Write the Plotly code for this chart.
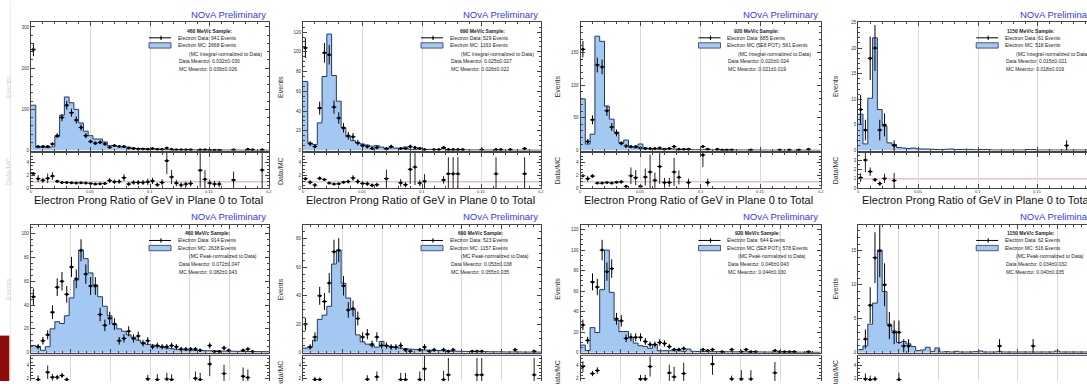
import numpy as np
import plotly.graph_objects as go

W, H = 1087, 384
NBINS = 50
TOP_RANGE = (0.0, 0.2)   # integral-normalized row
BOT_RANGE = (0.0, 0.3)   # peak-normalized row

# ---------------- 460 MeV/c, MC integral-normalized ----------------
mc_int_460 = [110, 7, 8, 7, 9, 34, 86, 130, 116, 100, 67, 47, 36, 28, 28, 21, 12, 12, 10, 8,
              8, 6, 5, 5, 4, 4, 3.5, 3.2, 1.6, 1.8, 2.5, 2.4, 2.3, 2.0, 1.6, 0.9, 1.4, 1.8, 1.5, 1.5,
              1.2, 1.1, 1.5, 1.0, 0.9, 0.8, 0.8, 0.7, 0.7, 0.7]
data_bins_int_460 = list(range(0, 34)) + [35, 36, 37, 38, 39, 42, 45, 46, 48]
data_int_460 = [245, 10, 10, 10, 16, 36, 80, 110, 92, 74, 56, 36, 22, 18, 20, 16, 8, 12, 10, 10,
                6, 5, 4, 4, 3, 5, 3, 3, 6, 3, 2, 2, 2, 2,
                2, 2, 1, 1, 1, 2, 3, 2, 2]
ratio_bins_int_460 = list(range(0, 34)) + [35, 36, 37, 38, 39, 42, 48]
ratio_int_460 = [2.3, 1.5, 1.25, 1.55, 1.9, 1.1, 0.9, 0.9, 0.85, 0.8, 0.85, 0.8, 0.75, 0.65, 0.7,
                 0.75, 1.2, 1.0, 1.05, 1.65, 0.65, 0.9, 0.9, 0.9, 1.0, 1.15, 0.55, 0.9, 4.3, 1.75,
                 0.8, 0.5, 0.65, 0.75,
                 2.8, 1.4, 0.8, 0.65, 0.65, 1.3, 2.85]
ratio_err_int_460 = [0.2, 0.55, 0.4, 0.75, 0.6, 0.2, 0.1, 0.1, 0.1, 0.1, 0.12, 0.15, 0.15, 0.15, 0.15,
                     0.2, 0.4, 0.35, 0.35, 0.55, 0.3, 0.35, 0.4, 0.4, 0.5, 0.5, 0.3, 0.5, 2.1, 1.1,
                     0.5, 0.4, 0.4, 0.5,
                     2.7, 1.4, 0.55, 0.5, 0.5, 1.3, 2.85]
legend_int_460 = ["460 MeV/c Sample:", "Electron Data: 941 Events", "Electron MC: 2668 Events",
                  "(MC Integral-normalized to Data)", "Data Mean±σ: 0.032±0.030",
                  "MC Mean±σ: 0.039±0.026"]

# ---------------- 690 MeV/c, MC integral-normalized ----------------
mc_int_690 = [70, 7.5, 6, 28, 75, 118, 76, 50, 23, 14, 10, 7.6, 6.5, 5.5, 4.4, 5, 3.5, 1.4, 3, 2.5,
              2.3, 3.6, 1.4, 0.9, 2.5, 0.9, 1.2, 1.1, 1.0, 2.3, 0.45, 0.45, 0.45, 0.6, 0.6, 0.6,
              0.6, 0.6, 0.5, 0.5, 0.45, 0.5, 0.4, 0.4, 0.4, 0.4, 0.45, 0.4, 0.3, 0.3]
data_bins_int_690 = list(range(0, 16)) + [17, 18, 20, 21, 22, 23, 24, 25,
                                          27, 28, 29, 30, 31, 32, 33, 37, 40, 41, 43, 46]
data_int_690 = [104, 7, 4, 43, 99, 97, 44, 33, 23, 15, 14, 8, 5, 4, 2, 3,
                2, 4, 2, 2, 4, 3, 2, 1,
                1, 1, 3, 1, 1, 1, 1, 1, 1, 1, 1, 2]
ratio_bins_int_690 = list(range(0, 16)) + [17, 20, 21, 22, 23, 24, 25, 29, 30, 31, 32, 40, 46]
ratio_int_690 = [1.5, 0.95, 0.5, 1.55, 1.35, 0.8, 0.65, 0.7, 0.95, 1.05, 1.6, 1.05, 0.75, 0.7,
                 0.45, 0.55, 1.5, 0.85, 0.55, 2.95, 3.3, 0.8, 1.1, 1.3, 2.25, 2.25, 2.25, 2.25, 2.25]
ratio_err_int_690 = [0.25, 0.35, 0.3, 0.3, 0.15, 0.1, 0.1, 0.15, 0.2, 0.3, 0.45, 0.4, 0.35, 0.35,
                     0.3, 0.3, 1.4, 0.6, 0.4, 2.3, 2.8, 0.5, 1.1, 0.6, 2.6, 2.6, 2.6, 2.6, 2.6]
legend_int_690 = ["690 MeV/c Sample:", "Electron Data: 529 Events", "Electron MC: 1163 Events",
                  "(MC Integral-normalized to Data)", "Data Mean±σ: 0.025±0.027",
                  "MC Mean±σ: 0.026±0.022"]

# ---------------- 920 MeV/c, MC integral-normalized ----------------
mc_int_920 = [79, 10, 25, 175, 167, 68, 48, 28, 12, 16, 5, 4, 10, 4, 3, 3, 2, 2.5, 3, 2.3,
              1.5, 1.5, 2.2, 1.2, 1.2, 1.1, 2.2, 1.0, 1.0, 1.0, 0.9, 1.2, 0.9, 0.8, 0.8, 0.9,
              0.7, 0.7, 0.7, 0.6, 0.6, 0.6, 0.5, 0.5, 0.5, 0.5, 0.5, 0.4, 0.4, 0.4]
data_bins_int_920 = list(range(0, 23)) + [25, 26, 28, 29, 30, 31, 35, 41, 43, 45, 47]
data_int_920 = [155, 14, 47, 131, 128, 61, 36, 27, 11, 7, 6, 6, 4, 3, 3, 3, 4, 2, 3, 6, 2, 2, 2,
                6, 2, 2, 1, 1, 1, 1, 1, 1, 1, 2]
ratio_bins_int_920 = list(range(0, 21)) + [22, 25, 26]
ratio_int_920 = [1.95, 1.5, 1.9, 0.8, 0.8, 0.9, 0.8, 0.95, 1.0, 0.3, 1.95, 1.65, 0.3, 1.75, 2.55,
                 1.25, 3.4, 0.9, 0.9, 2.55, 1.7, 0.9, 5.2, 0.9]
ratio_err_int_920 = [0.2, 0.45, 0.3, 0.08, 0.08, 0.12, 0.15, 0.2, 0.3, 0.15, 1.3, 1.2, 0.2, 1.3,
                     2.7, 1.2, 2.7, 0.7, 0.7, 2.2, 1.1, 0.6, 1.9, 0.6]
legend_int_920 = ["920 MeV/c Sample:", "Electron Data: 685 Events",
                  "Electron MC (5E8 POT): 581 Events", "(MC Integral-normalized to Data)",
                  "Data Mean±σ: 0.020±0.024", "MC Mean±σ: 0.021±0.019"]

# ---------------- 1150 MeV/c, MC integral-normalized ----------------
mc_int_1150 = [7.1, 1.3, 10.2, 22, 8, 4.8, 1.5, 1.2, 0.6, 0.5, 0.4, 0.5, 0.35, 0.3, 0.3, 0.25,
               0.2, 0.2, 0.25, 0.3, 0.2, 0.2, 0.25, 0.2, 0.15, 0.2, 0.2, 0.15, 0.1, 0.1, 0.1, 0.1,
               0.1, 0.1, 0.1, 0.2, 0.2, 0.1, 0.1, 0.1, 0.1, 0.1, 0.1, 0.1, 0.1, 0.1, 0.1, 0.1,
               0.1, 0.1]
data_bins_int_1150 = [0, 1, 2, 3, 4, 5, 7, 43]
data_int_1150 = [8, 4, 18, 20, 4, 5, 1, 1]
ratio_bins_int_1150 = [0, 1, 2, 3, 4, 5, 7]
ratio_int_1150 = [1.13, 3.0, 1.77, 0.9, 0.5, 1.05, 0.82]
ratio_err_int_1150 = [0.45, 1.3, 0.45, 0.2, 0.25, 0.5, 0.8]
legend_int_1150 = ["1150 MeV/c Sample:", "Electron Data: 61 Events", "Electron MC: 518 Events",
                   "(MC Integral-normalized to Data)", "Data Mean±σ: 0.015±0.021",
                   "MC Mean±σ: 0.018±0.019"]

# ---------------- 460 MeV/c, MC peak-normalized ----------------
mc_peak_460 = [6, 5, 2, 5, 20, 26, 24.5, 31, 46, 61, 86, 79, 67, 57, 47, 39, 31, 24, 20, 18,
               15, 13, 10.5, 8.6, 7, 6.4, 5.6, 4.7, 3.9, 3.3, 2.8, 2.5, 2.3, 2.1, 1.9, 1.8, 1.7,
               1.6, 1.5, 1.4, 1.3, 1.2, 1.2, 1.1, 1.1, 1.0, 1.0, 0.9, 0.9, 0.8]
data_bins_peak_460 = list(range(0, 36)) + [37, 38, 39, 40, 41, 44, 45, 46]
data_peak_460 = [47, 5, 10, 15, 34, 55, 60, 49, 72, 62, 86, 66, 56, 56, 32, 23, 29, 24, 10, 12,
                 18, 12, 14, 8, 10, 5, 6, 5, 5, 6, 5, 3, 3, 3, 3, 2,
                 6, 1, 1, 4, 2, 2, 3, 1]
ratio_bins_peak_460 = [1, 3, 4, 5, 6, 7, 24, 26, 28, 29, 34, 35, 37, 40, 44, 45]
ratio_peak_460 = [1.9, 3.0, 2.25, 2.25, 2.5, 1.9, 2.0, 1.9, 2.0, 1.9, 2.1, 1.9, 4.2, 2.8, 2.4, 2.2]
ratio_err_peak_460 = [0.6, 1.0, 0.5, 0.4, 0.4, 0.3, 0.6, 0.8, 0.9, 0.8, 1.0, 1.0, 1.8, 1.3, 1.3, 1.2]
legend_peak_460 = ["460 MeV/c Sample:", "Electron Data: 914 Events", "Electron MC: 2638 Events",
                   "(MC Peak-normalized to Data)", "Data Mean±σ: 0.072±0.047",
                   "MC Mean±σ: 0.082±0.043"]

# ---------------- 690 MeV/c, MC peak-normalized ----------------
mc_peak_690 = [3.2, 4.2, 8.8, 23.4, 26.4, 32.6, 62.3, 72, 48.8, 38.4, 30.3, 12.5, 7.6, 6, 4.9,
               3.9, 7.9, 4.9, 4.2, 3.7, 3.2, 2.9, 2.5, 2.3, 2.1, 1.9, 1.7, 1.6, 1.5, 1.4, 1.2,
               1.1, 1.0, 0.9, 0.9, 0.8, 0.8, 0.7, 0.7, 0.6, 0.6, 0.6, 0.5, 0.5, 0.5, 0.5, 0.4,
               0.4, 0.4, 0.4]
data_bins_peak_690 = list(range(0, 23)) + [24, 25, 26, 27, 29, 30, 31, 35, 36, 37, 44, 48]
data_peak_690 = [20, 4, 11, 40, 36, 49, 71, 72, 47, 30, 31, 24, 11, 13, 6, 11, 5, 5, 4, 4, 5, 2, 1,
                 2, 4, 1, 2, 2, 1, 2, 1, 1, 1, 2, 1]
ratio_bins_peak_690 = [2, 3, 13, 15, 20, 21, 24, 25, 29, 30, 36, 37, 48]
ratio_peak_690 = [1.9, 1.9, 1.95, 2.3, 1.9, 1.9, 1.9, 3.5, 1.9, 2.6, 2.6, 2.6, 2.6]
ratio_err_peak_690 = [0.4, 0.3, 0.6, 0.8, 1.0, 1.0, 1.2, 1.9, 1.3, 2.5, 2.5, 2.5, 2.5]
legend_peak_690 = ["690 MeV/c Sample:", "Electron Data: 523 Events", "Electron MC: 1157 Events",
                   "(MC Peak-normalized to Data)", "Data Mean±σ: 0.053±0.038",
                   "MC Mean±σ: 0.055±0.035"]

# ---------------- 920 MeV/c, MC peak-normalized ----------------
mc_peak_920 = [7.4, 2.2, 24.4, 19.6, 61.4, 100, 58.8, 31.5, 20.6, 20.6, 14.8, 9.3, 6.8, 6.1, 4.2,
               8, 1.9, 1.9, 1.9, 1.9, 1.9, 1.3, 3.5, 1.3, 1.2, 1.1, 1.1, 1.0, 1.0, 0.9, 0.9, 0.9,
               0.8, 0.8, 0.8, 0.7, 0.7, 0.7, 0.6, 0.6, 0.6, 0.6, 0.5, 0.5, 0.5, 0.5, 0.5, 0.4,
               0.4, 0.4]
data_bins_peak_920 = list(range(0, 22)) + [25, 26, 27, 29, 31, 33, 34, 35, 36, 40, 41, 42, 43, 44, 47]
data_peak_920 = [27, 12, 69, 64, 100, 79, 82, 33, 31, 14, 15, 15, 15, 11, 8, 8, 10, 9, 6, 3, 3, 4,
                 3, 2, 3, 1, 3, 1, 3, 1, 1, 2, 1, 1, 1, 1, 1]
ratio_bins_peak_920 = [0, 2, 3, 12, 13, 14, 18, 19, 21, 27, 31, 33, 35, 40]
ratio_peak_920 = [3.85, 2.8, 3.25, 2.0, 2.0, 3.85, 2.9, 2.3, 2.8, 4.2, 2.0, 2.0, 2.0, 2.9]
ratio_err_peak_920 = [0.8, 0.4, 0.5, 0.6, 0.6, 1.5, 1.2, 1.5, 1.6, 1.6, 0.5, 1.3, 1.3, 1.6]
legend_peak_920 = ["920 MeV/c Sample:", "Electron Data: 644 Events",
                   "Electron MC (5E8 POT): 578 Events", "(MC Peak-normalized to Data)",
                   "Data Mean±σ: 0.046±0.043", "MC Mean±σ: 0.044±0.030"]

# ---------------- 1150 MeV/c, MC peak-normalized ----------------
mc_peak_1150 = [0.45, 1.0, 4.2, 7.3, 15.1, 9.0, 4.2, 3.2, 1.5, 1.65, 1.3, 0.9, 0.3, 0.4, 0.8, 0.2,
                0.7, 0.1, 0.15, 0.1, 0.2, 0.1, 0.1, 0.1, 0.15, 0.25, 0.1, 0.1, 0.1, 0.2, 0.1, 0.1,
                0.1, 0.1, 0.1, 0.1, 0.1, 0.1, 0.1, 0.1, 0.1, 0.25, 0.1, 0.1, 0.1, 0.1, 0.1, 0.1,
                0.1, 0.1]
data_bins_peak_1150 = [1, 2, 3, 4, 5, 6, 7, 8, 9, 10, 29, 36]
data_peak_1150 = [2, 7, 14, 15, 10, 4, 3, 3, 1, 1, 1, 1]
ratio_bins_peak_1150 = [1, 2, 3, 8]
ratio_peak_1150 = [2.0, 1.9, 2.0, 1.9]
ratio_err_peak_1150 = [0.8, 0.6, 0.4, 1.0]
legend_peak_1150 = ["1150 MeV/c Sample:", "Electron Data: 62 Events", "Electron MC: 516 Events",
                    "(MC Peak-normalized to Data)", "Data Mean±σ: 0.034±0.032",
                    "MC Mean±σ: 0.040±0.035"]

X_TITLE = "Electron Prong Ratio of GeV in Plane 0 to Total"
RATIO_X_TICKS = [0.0, 0.05, 0.1, 0.15, 0.2]
RATIO_X_LABELS = ["0", "0.05", "0.1", "0.15", "0.2"]

# ---------------- styling ----------------
FONT = "Liberation Sans, Arial, Helvetica, sans-serif"
MC_FILL = "#a3c8f2"
MC_LINE = "#24385e"
AX = "#444444"
GRID = "#dadada"
RATIO_ONE = "#e3a0a0"
NOVA_BLUE = "#3838ee"

# pixel geometry of the panel frames
COL_LEFT = [31.0, 303.0, 580.5, 858.2]
COL_RIGHT = [269.3, 541.3, 820.5, 1097.8]
ROW_MAIN = [(20.7, 150.5), (226.0, 355.3)]
ROW_RATIO = [(153.0, 188.7), (358.0, 395.5)]
TITLE_CX = [[178.0, 179.8, 176.0, 172.8], [176.5, 177.7, 176.8, 172.6]]
TAB_TOP = 338.0   # top edge of the corner tab

panels = [
    dict(row=0, col=0, mc=mc_int_460, db=data_bins_int_460, dv=data_int_460,
         rb=ratio_bins_int_460, rv=ratio_int_460, re=ratio_err_int_460, leg=legend_int_460,
         ymax=311, dt=100, mdt=20, rmax=5.5, rticks=[0, 2, 4], faint=True),
    dict(row=0, col=1, mc=mc_int_690, db=data_bins_int_690, dv=data_int_690,
         rb=ratio_bins_int_690, rv=ratio_int_690, re=ratio_err_int_690, leg=legend_int_690,
         ymax=129.8, dt=20, mdt=5, rmax=5.5, rticks=[0, 2, 4], faint=False),
    dict(row=0, col=2, mc=mc_int_920, db=data_bins_int_920, dv=data_int_920,
         rb=ratio_bins_int_920, rv=ratio_int_920, re=ratio_err_int_920, leg=legend_int_920,
         ymax=196, dt=50, mdt=10, rmax=5.5, rticks=[0, 2, 4], faint=False),
    dict(row=0, col=3, mc=mc_int_1150, db=data_bins_int_1150, dv=data_int_1150,
         rb=ratio_bins_int_1150, rv=ratio_int_1150, re=ratio_err_int_1150, leg=legend_int_1150,
         ymax=25, dt=5, mdt=1, rmax=3.75, rticks=[0, 1, 2, 3], faint=False),
    dict(row=1, col=0, mc=mc_peak_460, db=data_bins_peak_460, dv=data_peak_460,
         rb=ratio_bins_peak_460, rv=ratio_peak_460, re=ratio_err_peak_460, leg=legend_peak_460,
         ymax=107.2, dt=20, mdt=5, rmax=5.5, rticks=[0, 2, 4], faint=True),
    dict(row=1, col=1, mc=mc_peak_690, db=data_bins_peak_690, dv=data_peak_690,
         rb=ratio_bins_peak_690, rv=ratio_peak_690, re=ratio_err_peak_690, leg=legend_peak_690,
         ymax=89.7, dt=20, mdt=5, rmax=5.5, rticks=[0, 2, 4], faint=False),
    dict(row=1, col=2, mc=mc_peak_920, db=data_bins_peak_920, dv=data_peak_920,
         rb=ratio_bins_peak_920, rv=ratio_peak_920, re=ratio_err_peak_920, leg=legend_peak_920,
         ymax=124.4, dt=20, mdt=5, rmax=5.5, rticks=[0, 2, 4], faint=False),
    dict(row=1, col=3, mc=mc_peak_1150, db=data_bins_peak_1150, dv=data_peak_1150,
         rb=ratio_bins_peak_1150, rv=ratio_peak_1150, re=ratio_err_peak_1150, leg=legend_peak_1150,
         ymax=18.8, dt=5, mdt=1, rmax=5.5, rticks=[0, 2, 4], faint=False),
]


def fx(p):
    return p / W


def fy(p):
    return 1 - p / H


def ax_name(i, letter):
    return letter if i == 1 else f"{letter}{i}"


def ax_key(i, letter):
    return f"{letter}axis" if i == 1 else f"{letter}axis{i}"


fig = go.Figure()
layout_axes = {}
annotations = []
shapes = []

for k, p in enumerate(panels):
    r, c = p["row"], p["col"]
    lo, hi = TOP_RANGE if r == 0 else BOT_RANGE
    left, right = COL_LEFT[c], COL_RIGHT[c]
    vis_right = min(right, W)
    x_hi = lo + (hi - lo) * (vis_right - left) / (right - left)
    cut_right = right > W
    mt, mb = ROW_MAIN[r]
    rt, rb = ROW_RATIO[r]
    cut_bottom = rb > H

    edges = np.linspace(lo, hi, NBINS + 1)
    centers = 0.5 * (edges[:-1] + edges[1:])
    half = 0.5 * (hi - lo) / NBINS

    im, ir = 2 * k + 1, 2 * k + 2
    xm, ym = ax_name(im, "x"), ax_name(im, "y")
    xr, yr = ax_name(ir, "x"), ax_name(ir, "y")

    # simulated spectrum as a filled step histogram
    mc = list(p["mc"])
    fig.add_trace(go.Scatter(
        x=edges, y=mc + [mc[-1]], mode="lines",
        line=dict(shape="hv", color=MC_LINE, width=1),
        fill="tozeroy", fillcolor=MC_FILL, xaxis=xm, yaxis=ym, hoverinfo="skip"))

    # data counts with Poisson uncertainties
    dv = np.array(p["dv"], dtype=float)
    fig.add_trace(go.Scatter(
        x=centers[p["db"]], y=dv, mode="markers",
        marker=dict(color="black", size=3),
        error_y=dict(type="data", array=np.sqrt(dv), color="black", thickness=1, width=0),
        error_x=dict(type="constant", value=half, color="black", thickness=1, width=0),
        xaxis=xm, yaxis=ym, hoverinfo="skip"))

    # data / MC ratio
    fig.add_trace(go.Scatter(
        x=centers[p["rb"]], y=p["rv"], mode="markers",
        marker=dict(color="black", size=3),
        error_y=dict(type="data", array=p["re"], color="#222222", thickness=1, width=0),
        error_x=dict(type="constant", value=half, color="black", thickness=1, width=0),
        xaxis=xr, yaxis=yr, hoverinfo="skip"))

    xdom = [fx(left), fx(vis_right)]
    tickfont = dict(family=FONT, size=4.5, color="#333333")

    layout_axes[ax_key(im, "x")] = dict(
        domain=xdom, range=[lo, x_hi], anchor=ym, showticklabels=False,
        ticks="inside", ticklen=4, tickcolor=AX, tick0=0, dtick=0.05,
        minor=dict(ticks="inside", ticklen=2, dtick=0.01, tickcolor=AX),
        showline=True, linecolor=AX, linewidth=1, mirror="allticks",
        showgrid=True, gridcolor=GRID, gridwidth=1, zeroline=False)
    layout_axes[ax_key(im, "y")] = dict(
        domain=[fy(mb), fy(mt)], range=[0, p["ymax"]], anchor=xm,
        ticks="inside", ticklen=4, tickcolor=AX, tick0=0, dtick=p["dt"],
        minor=dict(ticks="inside", ticklen=2, dtick=p["mdt"], tickcolor=AX),
        showline=True, linecolor=AX, linewidth=1,
        mirror=False if cut_right else "allticks",
        showgrid=False, zeroline=False, tickfont=tickfont)

    r_lo = p["rmax"] * (rb - H) / (rb - rt) if cut_bottom else 0.0
    if cut_bottom:
        rx = dict(showline=False, ticks="")
    else:
        rx = dict(showline=True, linecolor=AX, linewidth=1, mirror="allticks",
                  ticks="inside", ticklen=4, tickcolor=AX,
                  minor=dict(ticks="inside", ticklen=2, dtick=0.01, tickcolor=AX))
    layout_axes[ax_key(ir, "x")] = dict(
        domain=xdom, range=[lo, x_hi], anchor=yr, showticklabels=False,
        tick0=0, dtick=0.05, showgrid=True, gridcolor=GRID, gridwidth=1, zeroline=False, **rx)
    layout_axes[ax_key(ir, "y")] = dict(
        domain=[max(0.0, fy(rb)), fy(rt)], range=[r_lo, p["rmax"]], anchor=xr,
        tickvals=p["rticks"], ticks="inside", ticklen=4, tickcolor=AX,
        minor=dict(ticks="inside", ticklen=2, dtick=0.5, tickcolor=AX),
        showline=True, linecolor=AX, linewidth=1,
        mirror=False if cut_right else "allticks",
        showgrid=False, zeroline=False, tickfont=tickfont)

    if not cut_bottom:
        shapes.append(dict(type="line", xref=f"{xr} domain", x0=0, x1=1, yref=yr, y0=1, y1=1,
                           line=dict(color=RATIO_ONE, width=1), layer="below"))
        # ratio x tick labels sit just under the frame
        for tv, tl in zip(RATIO_X_TICKS, RATIO_X_LABELS):
            if tv <= x_hi:
                annotations.append(dict(x=tv, xref=xr, y=fy(rb + 3.4), yref="paper", text=tl,
                                        showarrow=False, xanchor="center", yanchor="middle",
                                        font=dict(family=FONT, size=4, color="#333333")))
    else:
        shapes.append(dict(type="line", xref=f"{xr} domain", x0=0, x1=1, yref="paper",
                           y0=fy(rt), y1=fy(rt), line=dict(color=AX, width=1)))

    # header text
    annotations.append(dict(x=fx(right - 1), y=fy(mt - 8.5), xref="paper", yref="paper",
                            text="NOvA Preliminary", showarrow=False, xanchor="right",
                            yanchor="middle", font=dict(family=FONT, size=9.5, color=NOVA_BLUE)))
    if r == 0:
        annotations.append(dict(x=fx(0.5 * (left + right) - 2), y=fy(200.5), xref="paper",
                                yref="paper", text=X_TITLE, showarrow=False, xanchor="center",
                                yanchor="middle", font=dict(family=FONT, size=11, color="#111111")))

    ycol = "#d6d6d6" if p["faint"] else "#333333"
    annotations.append(dict(x=fx(left - 22.6), y=fy(0.5 * (mt + mb)), xref="paper", yref="paper",
                            text="Events", textangle=-90, showarrow=False, xanchor="center",
                            yanchor="middle", font=dict(family=FONT, size=7, color=ycol)))
    ratio_label_y = 0.5 * (rt + rb)
    if not (p["faint"] and ratio_label_y > TAB_TOP):
        annotations.append(dict(x=fx(left - 22.6), y=fy(ratio_label_y), xref="paper",
                                yref="paper", text="Data/MC", textangle=-90, showarrow=False,
                                xanchor="center", yanchor="middle",
                                font=dict(family=FONT, size=7, color=ycol)))

    # legend block
    leg = p["leg"]
    lf = dict(family=FONT, size=5, color="#222222")
    annotations.append(dict(x=fx(left + TITLE_CX[r][c]), y=fy(mt + 8.3), xref="paper",
                            yref="paper", text=f"<b>{leg[0]}</b>", showarrow=False,
                            xanchor="center", yanchor="middle", font=lf))
    rows = [(leg[1], 144.7, 15.6), (leg[2], 144.7, 23.3), (leg[3], 155.7, 31.6),
            (leg[4], 145.7, 39.3), (leg[5], 145.7, 47.6)]
    for txt, dx, dy in rows:
        annotations.append(dict(x=fx(left + dx), y=fy(mt + dy), xref="paper", yref="paper",
                                text=txt, showarrow=False, xanchor="left", yanchor="middle",
                                font=lf))
    shapes.append(dict(type="line", xref="paper", yref="paper",
                       x0=fx(left + 118), x1=fx(left + 140), y0=fy(mt + 15.6), y1=fy(mt + 15.6),
                       line=dict(color="black", width=1)))
    shapes.append(dict(type="line", xref="paper", yref="paper",
                       x0=fx(left + 130), x1=fx(left + 130), y0=fy(mt + 13.4), y1=fy(mt + 17.8),
                       line=dict(color="black", width=1)))
    shapes.append(dict(type="rect", xref="paper", yref="paper",
                       x0=fx(left + 129.2), x1=fx(left + 130.8), y0=fy(mt + 14.8), y1=fy(mt + 16.4),
                       fillcolor="black", line=dict(width=0)))
    shapes.append(dict(type="rect", xref="paper", yref="paper",
                       x0=fx(left + 118), x1=fx(left + 140), y0=fy(mt + 26.0), y1=fy(mt + 20.6),
                       fillcolor=MC_FILL, line=dict(color=MC_LINE, width=0.8)))

# slide edge and corner tab
shapes.append(dict(type="line", xref="paper", yref="paper", x0=fx(10.5), x1=fx(10.5), y0=0, y1=1,
                   line=dict(color="#ececec", width=1)))
shapes.append(dict(type="rect", xref="paper", yref="paper", x0=0, x1=fx(9.3), y0=0, y1=fy(TAB_TOP),
                   fillcolor="#8c0b0b", line=dict(width=0)))

fig.update_layout(
    width=W, height=H, margin=dict(l=0, r=0, t=0, b=0),
    paper_bgcolor="white", plot_bgcolor="white", showlegend=False,
    font=dict(family=FONT), annotations=annotations, shapes=shapes, **layout_axes)

fig.write_html("out.html", config=dict(displayModeBar=False))
